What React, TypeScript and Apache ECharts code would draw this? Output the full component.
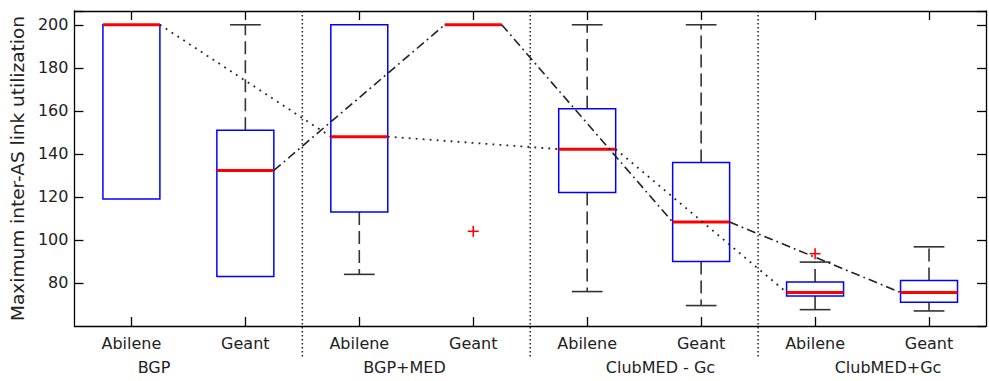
import React, { useEffect, useRef } from "react";
import * as echarts from "echarts";

const categories = ["Abilene", "Geant", "Abilene", "Geant", "Abilene", "Geant", "Abilene", "Geant"];
const groupLabels = ["BGP", "BGP+MED", "ClubMED - Gc", "ClubMED+Gc"];
const groupLabelX = [154, 404.5, 660.5, 888];
const whiskerLow = [119, 83, 84, 200, 76, 69.5, 67.6, 67];
const quartile1 = [119, 83, 113, 200, 122, 90, 74, 71];
const medians = [200, 132.3, 148, 200, 142.2, 108.3, 75.6, 75.6];
const quartile3 = [200, 151, 200, 200, 161, 136, 80.5, 81.2];
const whiskerHigh = [200, 200, 200, 200, 200, 200, 89.7, 96.8];
const outlierCategory = [3, 6];
const outlierValue = [104, 93.6];
const abileneIdx = [0, 2, 4, 6];
const geantIdx = [1, 3, 5, 7];
const separatorsAfter = [1, 3, 5];
const yMin = 60;
const yMax = 206.4;
const yInterval = 20;

const FONT = "DejaVu Sans";

function segments(idx: number[]) {
  const out: number[][] = [];
  for (let k = 0; k < idx.length - 1; k++) {
    out.push([idx[k], medians[idx[k]], idx[k + 1], medians[idx[k + 1]]]);
  }
  return out;
}

export default function App() {
  const ref = useRef<HTMLDivElement>(null);
  useEffect(() => {
    document.body.style.margin = "0";
    const chart = echarts.init(ref.current!, undefined, { renderer: "svg" });

    const boxData = categories.map((_, i) => [i, whiskerLow[i], quartile1[i], medians[i], quartile3[i], whiskerHigh[i]]);

    const boxRender = (params: any, api: any) => {
      const i = api.value(0);
      const bw = api.size([1, 0])[0] * 0.5;
      const h = bw / 2;
      const ch = h * 0.54;
      const [cx, yLo] = api.coord([i, api.value(1)]);
      const yQ1 = api.coord([i, api.value(2)])[1];
      const yMed = api.coord([i, api.value(3)])[1];
      const yQ3 = api.coord([i, api.value(4)])[1];
      const yHi = api.coord([i, api.value(5)])[1];
      const wStyle = { stroke: "#333", lineWidth: 1.6, lineDash: [13, 6] };
      const cStyle = { stroke: "#333", lineWidth: 1.6 };
      const children: any[] = [];
      if (yQ3 - yHi > 0.5) {
        children.push({ type: "line", shape: { x1: cx, y1: yQ3, x2: cx, y2: yHi }, style: wStyle });
        children.push({ type: "line", shape: { x1: cx - ch, y1: yHi, x2: cx + ch, y2: yHi }, style: cStyle });
      }
      if (yLo - yQ1 > 0.5) {
        children.push({ type: "line", shape: { x1: cx, y1: yQ1, x2: cx, y2: yLo }, style: wStyle });
        children.push({ type: "line", shape: { x1: cx - ch, y1: yLo, x2: cx + ch, y2: yLo }, style: cStyle });
      }
      children.push({
        type: "rect",
        shape: { x: cx - h, y: yQ3, width: 2 * h, height: yQ1 - yQ3 },
        style: { fill: "none", stroke: "#0000ff", lineWidth: 1.5 },
      });
      children.push({ type: "line", shape: { x1: cx - h, y1: yMed, x2: cx + h, y2: yMed }, style: { stroke: "#ff0000", lineWidth: 3 } });
      return { type: "group", children };
    };

    const segRender = (dash: number[], width: number) => (params: any, api: any) => {
      const bw = api.size([1, 0])[0] * 0.5;
      const h = bw / 2;
      const p0 = api.coord([api.value(0), api.value(1)]);
      const p1 = api.coord([api.value(2), api.value(3)]);
      return {
        type: "line",
        shape: { x1: p0[0] + h, y1: p0[1], x2: p1[0] - h, y2: p1[1] },
        style: { stroke: "#222", lineWidth: width, lineDash: dash },
      };
    };

    const sepRender = (params: any, api: any) => {
      const w = api.size([1, 0])[0];
      const i = api.value(0);
      const top = api.coord([i, yMax]);
      const bot = api.coord([i, yMin]);
      const x = top[0] + w / 2;
      return {
        type: "line",
        shape: { x1: x, y1: top[1], x2: x, y2: bot[1] + 32 },
        style: { stroke: "#222", lineWidth: 1.5, lineDash: [1.4, 2.6] },
      };
    };

    const outRender = (params: any, api: any) => {
      const [x, y] = api.coord([api.value(0), api.value(1)]);
      const a = 5.5;
      const st = { stroke: "#ff0000", lineWidth: 1.6 };
      return {
        type: "group",
        children: [
          { type: "line", shape: { x1: x - a, y1: y, x2: x + a, y2: y }, style: st },
          { type: "line", shape: { x1: x, y1: y - a, x2: x, y2: y + a }, style: st },
        ],
      };
    };

    const axisLine = { show: true, lineStyle: { color: "#000", width: 1.3 } };
    const axisTick = { show: true, inside: true, length: 9, interval: 0, alignWithLabel: true, lineStyle: { color: "#000", width: 1.3 } };

    chart.setOption({
      animation: false,
      backgroundColor: "#fff",
      grid: { left: 71, right: 3, top: 11, bottom: 55, containLabel: false },
      xAxis: [
        {
          type: "category",
          data: categories,
          position: "bottom",
          boundaryGap: true,
          axisLine,
          axisTick,
          axisLabel: { interval: 0, margin: 9, fontSize: 16, fontFamily: FONT, color: "#222" },
          splitLine: { show: false },
        },
        {
          type: "category",
          data: categories,
          position: "top",
          boundaryGap: true,
          axisLine,
          axisTick,
          axisLabel: { show: false },
          splitLine: { show: false },
        },
      ],
      yAxis: [
        {
          type: "value",
          min: yMin,
          max: yMax,
          interval: yInterval,
          position: "left",
          axisLine,
          axisTick: { show: true, inside: true, length: 9, lineStyle: { color: "#000", width: 1.3 } },
          axisLabel: {
            margin: 6,
            fontSize: 16,
            fontFamily: FONT,
            color: "#222",
            showMinLabel: false,
            formatter: (v: number) => (v % yInterval === 0 && v > yMin ? String(v) : ""),
          },
          splitLine: { show: false },
          name: "Maximum inter-AS link utilization",
          nameLocation: "middle",
          nameGap: 38,
          nameTextStyle: { fontSize: 18.5, fontFamily: FONT, color: "#222" },
        },
        {
          type: "value",
          min: yMin,
          max: yMax,
          interval: yInterval,
          position: "right",
          axisLine,
          axisTick: { show: true, inside: true, length: 9, lineStyle: { color: "#000", width: 1.3 } },
          axisLabel: { show: false },
          splitLine: { show: false },
        },
      ],
      graphic: groupLabels.map((t, k) => ({
        type: "text",
        x: groupLabelX[k],
        y: 367,
        style: { text: t, fontSize: 16, fontFamily: FONT, fill: "#222", align: "center", verticalAlign: "middle" },
      })),
      series: [
        {
          type: "custom",
          name: "separators",
          clip: false,
          z: 1,
          renderItem: sepRender,
          data: separatorsAfter.map((i) => [i]),
          encode: { x: 0 },
        },
        {
          type: "custom",
          name: "boxes",
          z: 2,
          renderItem: boxRender,
          data: boxData,
          encode: { x: 0, y: [1, 2, 3, 4, 5] },
        },
        {
          type: "custom",
          name: "Abilene medians",
          z: 3,
          renderItem: segRender([1.8, 5.2], 1.8),
          data: segments(abileneIdx),
          encode: { x: [0, 2], y: [1, 3] },
        },
        {
          type: "custom",
          name: "Geant medians",
          z: 3,
          renderItem: segRender([9, 4, 1.8, 4], 1.6),
          data: segments(geantIdx),
          encode: { x: [0, 2], y: [1, 3] },
        },
        {
          type: "custom",
          name: "outliers",
          z: 4,
          renderItem: outRender,
          data: outlierCategory.map((c, k) => [c, outlierValue[k]]),
          encode: { x: 0, y: 1 },
        },
      ],
    });
    return () => chart.dispose();
  }, []);
  return <div ref={ref} style={{ width: 989, height: 381 }} />;
}
